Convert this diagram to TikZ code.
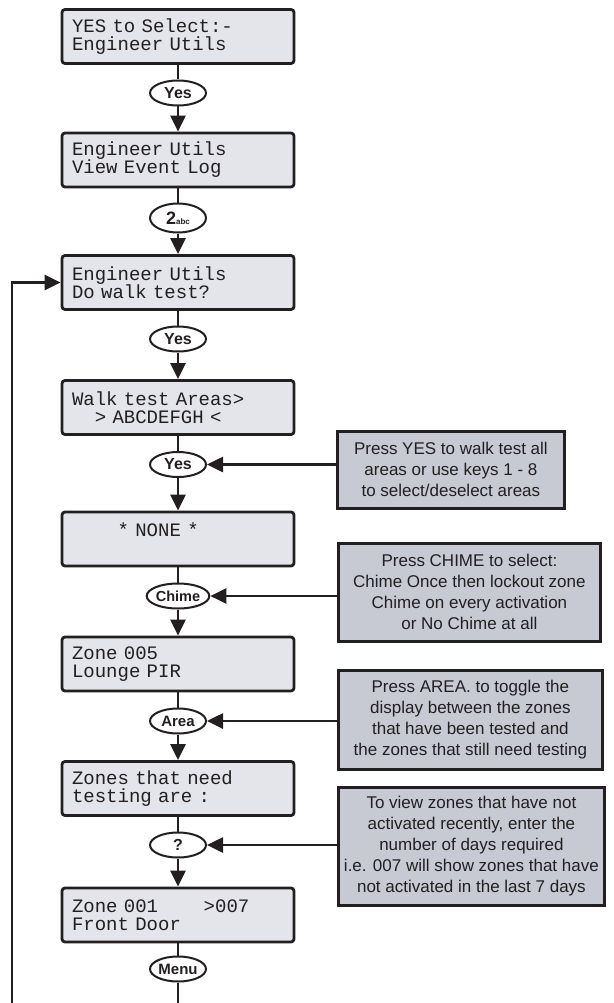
\documentclass[tikz,border=0pt]{standalone}
\usepackage{fontspec}
\setsansfont{Liberation Sans}
\newfontfamily\lcdfont{Liberation Mono}
\usepackage{xcolor}
\usetikzlibrary{arrows.meta,positioning,shapes.geometric}
\definecolor{lcdgrey}{RGB}{227,229,234}
\definecolor{notegrey}{RGB}{199,202,210}
\definecolor{ink}{RGB}{35,31,32}

\begin{document}
\begin{tikzpicture}[
  x=1pt, y=-1pt,
  lcd/.style={draw=ink, line width=2.8pt, rounded corners=3pt, fill=lcdgrey, text=ink, minimum height=54pt, text width=212pt, align=left, inner xsep=10pt, font=\lcdfont\fontsize{19}{18}\selectfont},
  key/.style={ellipse, draw=ink, line width=2pt, fill=white, text=ink, minimum width=56pt, minimum height=25pt, inner sep=0pt, font=\sffamily\bfseries\fontsize{16}{16}\selectfont},
  note/.style={draw=ink, line width=2.8pt, fill=notegrey, text=ink, anchor=north west, align=center, inner sep=0pt, font=\sffamily\fontsize{17}{21}\selectfont},
  link/.style={draw=ink, line width=2.6pt},
  arr/.style={link, -{Triangle[length=16pt,width=15pt]}}
]
\useasboundingbox (0,0) rectangle (613,1003);

% display screens and keys
\node[lcd] (top)   at (178,36.5)  {YES to Select:-\\Engineer Utils};
\node[key] (yes1)  at (178,93)    {Yes};
\node[lcd] (util)  at (178,160)   {Engineer Utils\\View Event Log};
\node[key, minimum height=29pt] (two) at (178,218) {\fontsize{18}{18}\selectfont 2{\fontsize{8}{8}\selectfont abc}};
\node[lcd] (walk)  at (178,282.5) {Engineer Utils\\Do walk test?};
\node[key] (yes2)  at (178,339)   {Yes};
\node[lcd] (areas) at (178,407.5) {Walk test Areas>\\\hphantom{00}> ABCDEFGH <};
\node[key] (yes3)  at (178,464.5) {Yes};
\node[lcd] (none)  at (178,539)   {\hphantom{0000}* NONE *\\\hphantom{0}};
\node[key, font=\sffamily\bfseries\fontsize{14.5}{14.5}\selectfont] (chime) at (178,596) {Chime};
\node[lcd] (zone5) at (178,664)   {Zone 005\\Lounge PIR};
\node[key, font=\sffamily\bfseries\fontsize{15}{15}\selectfont] (area) at (178,721) {Area};
\node[lcd] (need)  at (178,788.5) {Zones that need\\testing are :};
\node[key] (query) at (178,845)   {?};
\node[lcd] (zone1) at (178,915)   {Zone 001\hphantom{0000}>007\\Front Door};
\node[key, font=\sffamily\bfseries\fontsize{15}{15}\selectfont] (menu) at (178,969) {Menu};

\coordinate (menufoot) at (178,1003);
\coordinate (loopfoot) at (12,1003);

\foreach \a/\b/\c in {top/yes1/util, util/two/walk, walk/yes2/areas, areas/yes3/none, none/chime/zone5, zone5/area/need, need/query/zone1} {
  \draw[link] (\a) -- (\b);
  \draw[arr] (\b) -- (\c);
}
\draw[link] (zone1) -- (menu);
\draw[link] (menu) -- (menufoot);
\draw[arr] (loopfoot) |- (walk.west);

% help notes
\node[note, minimum width=227pt, minimum height=77pt] (hintyes) at (336,430)
  {Press YES to walk test all\\areas or use keys 1 - 8\\to select/deselect areas};
\node[note, minimum width=262pt, minimum height=98pt] (hintchime) at (337,542)
  {Press CHIME to select:\\Chime Once then lockout zone\\Chime on every activation\\or No Chime at all};
\node[note, minimum width=264pt, minimum height=99pt] (hintarea) at (337,669)
  {Press AREA. to toggle the\\display between the zones\\that have been tested and\\the zones that still need testing};
\node[note, minimum width=266pt, minimum height=118pt] (hintdays) at (337,786)
  {To view zones that have not\\activated recently, enter the\\number of days required\\i.e. 007 will show zones that have\\not activated in the last 7 days};

\draw[arr] (hintyes.west |- yes3) -- (yes3);
\draw[arr] (hintchime.west |- chime) -- (chime);
\draw[arr] (hintarea.west |- area) -- (area);
\draw[arr] (hintdays.west |- query) -- (query);
\end{tikzpicture}
\end{document}
